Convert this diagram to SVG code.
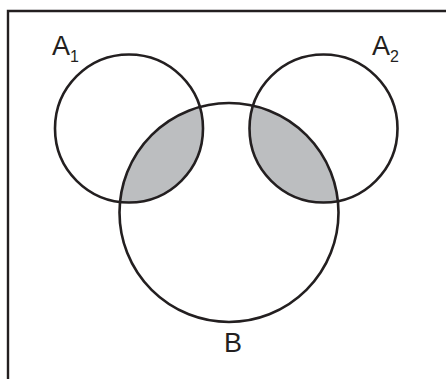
<svg xmlns="http://www.w3.org/2000/svg" width="446" height="379" viewBox="0 0 446 379">
<style>
.c{fill:none;stroke:#231f20;stroke-width:2.6}
.t{font-family:"Liberation Sans",Arial,sans-serif;fill:#231f20}
</style>
<defs>
<clipPath id="clipB"><circle cx="229" cy="212.5" r="109.5"/></clipPath>
</defs>
<rect x="0" y="0" width="446" height="379" fill="#fff"/>
<path d="M8 379 V11 H446" fill="none" stroke="#231f20" stroke-width="2.4"/>
<g id="shade" clip-path="url(#clipB)" fill="#bcbec0">
<circle cx="129" cy="128.5" r="74"/>
<circle cx="323.5" cy="128.5" r="74"/>
</g>
<g id="A1"><circle class="c" cx="129" cy="128.5" r="74"/>
<text class="t" x="52" y="55" font-size="27">A<tspan font-size="16" dy="7">1</tspan></text></g>
<g id="A2"><circle class="c" cx="323.5" cy="128.5" r="74"/>
<text class="t" x="372" y="55" font-size="27">A<tspan font-size="16" dy="7">2</tspan></text></g>
<g id="B"><circle class="c" cx="229" cy="212.5" r="109.5"/>
<text class="t" x="224" y="352" font-size="27">B</text></g>
</svg>
